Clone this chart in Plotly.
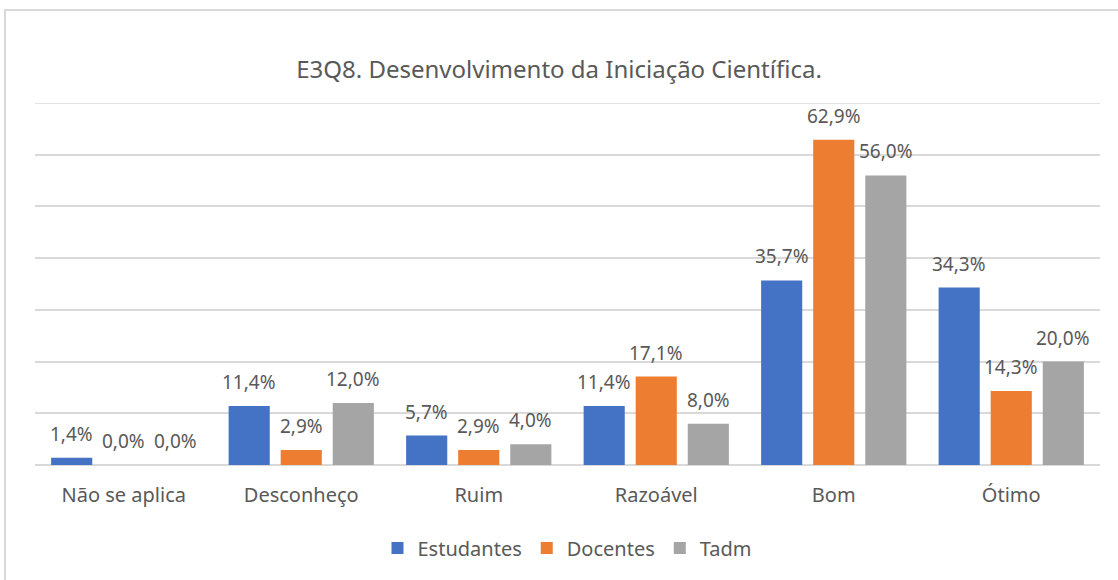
import plotly.graph_objects as go

categories = ["Não se aplica", "Desconheço", "Ruim", "Razoável", "Bom", "Ótimo"]
series_names = ["Estudantes", "Docentes", "Tadm"]
estudantes = [1.4, 11.4, 5.7, 11.4, 35.7, 34.3]
docentes = [0.0, 2.9, 2.9, 17.1, 62.9, 14.3]
tadm = [0.0, 12.0, 4.0, 8.0, 56.0, 20.0]
colors = ["#4472C4", "#ED7D31", "#A5A5A5"]
title_text = "E3Q8. Desenvolvimento da Iniciação Científica."
y_max = 70

FONT = "Noto Sans"
TXT = "#595959"

W, H = 1118, 580
ml, mr, mt, mb = 35, 18, 103, 115
pw, ph = W - ml - mr, H - mt - mb

fig = go.Figure()
all_series = [estudantes, docentes, tadm]
for name, vals, col in zip(series_names, all_series, colors):
    fig.add_trace(go.Bar(x=categories, y=vals, name=name, marker_color=col,
                         marker_line_width=0))

slot = pw / len(categories) * (1 - 0.12) / 3
annotations = []
for i, vals in enumerate(all_series):
    for c, v in zip(categories, vals):
        annotations.append(dict(x=c, y=v, xref="x", yref="y",
                                text=f"{v:.1f}%".replace(".", ","),
                                showarrow=False, yanchor="middle",
                                xshift=(i - 1) * slot, yshift=24,
                                font=dict(family=FONT, size=19, color=TXT)))

fig.update_layout(
    width=W, height=H,
    margin=dict(l=ml, r=mr, t=mt, b=mb),
    paper_bgcolor="white", plot_bgcolor="white",
    barmode="group", bargap=0.12, bargroupgap=0.21,
    title=dict(text=title_text, x=0.5, xanchor="center", y=1 - 70 / H,
               yanchor="middle", font=dict(family=FONT, size=24, color=TXT)),
    font=dict(family=FONT, color=TXT),
    xaxis=dict(showgrid=False, showline=False, ticks="", ticklabelstandoff=16,
               tickfont=dict(family=FONT, size=20, color=TXT)),
    yaxis=dict(range=[0, y_max], dtick=10, showticklabels=False,
               gridcolor="#D9D9D9", gridwidth=1.5, zeroline=True,
               zerolinecolor="#D9D9D9", zerolinewidth=1.5, showline=False),
    legend=dict(orientation="h", x=0.5, xanchor="center",
                y=(465 - 548) / ph, yanchor="middle",
                font=dict(family=FONT, size=20, color=TXT),
                itemwidth=30, traceorder="normal"),
    annotations=annotations,
    shapes=[dict(type="rect", xref="paper", yref="paper",
                 x0=(5 - ml) / pw, x1=(W + 10 - ml) / pw,
                 y0=(465 - H - 10) / ph, y1=1 + (mt - 10) / ph,
                 line=dict(color="#D9D9D9", width=2), layer="below"),
            dict(type="line", xref="paper", yref="y", x0=0, x1=1,
                 y0=y_max, y1=y_max,
                 line=dict(color="#D9D9D9", width=1.5), layer="below")],
)

fig.write_html("out.html", config={"displayModeBar": False},
               post_script="document.body.style.margin='0';")
